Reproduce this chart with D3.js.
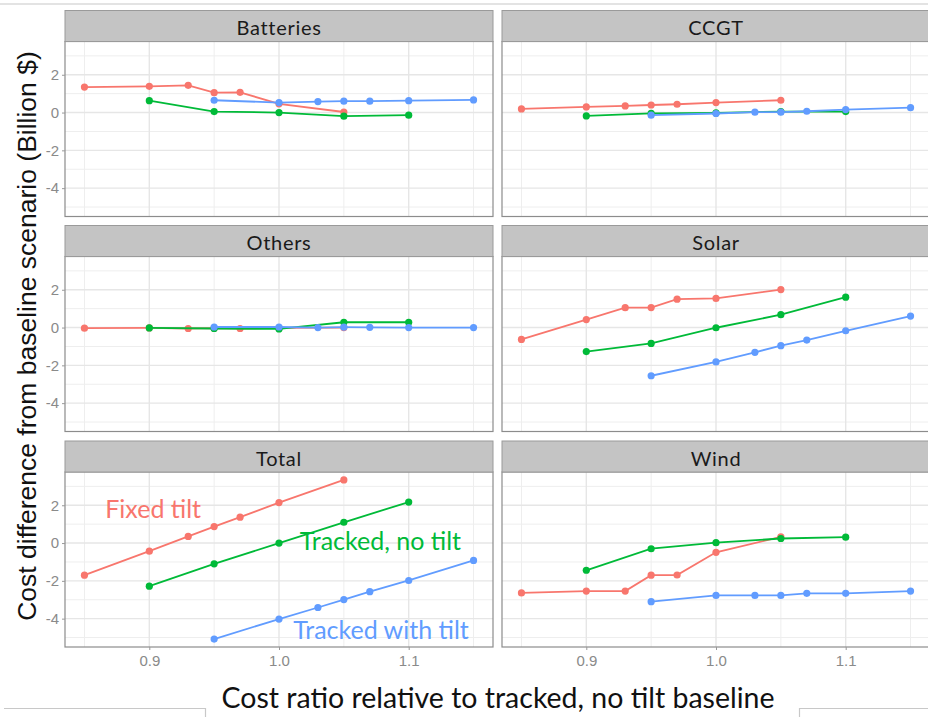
<!DOCTYPE html>
<html>
<head>
<meta charset="utf-8">
<script src="https://cdn.jsdelivr.net/npm/d3@7"></script>
<style>
  body { margin: 0; background: #fff; }
  svg { display: block; }
</style>
</head>
<body>
<svg width="928" height="717"></svg>
<script>
// facets, in reading order
let panels = ["Batteries", "CCGT", "Others", "Solar", "Total", "Wind"]

// x values of each scenario
let xFixed = [0.85, 0.90, 0.93, 0.95, 0.97, 1.00, 1.05]
let xNoTilt = [0.90, 0.95, 1.00, 1.05, 1.10]
let xWithTilt = [0.95, 1.00, 1.03, 1.05, 1.07, 1.10, 1.15]

// one row per panel (same order as panels)
let fixedTilt = [
    [1.35, 1.39, 1.44, 1.05, 1.07, 0.46, 0.03],
    [0.19, 0.30, 0.35, 0.40, 0.44, 0.53, 0.65],
    [-0.03, -0.02, -0.05, -0.03, -0.05, -0.02, 0.00],
    [-0.63, 0.42, 1.05, 1.06, 1.50, 1.54, 2.01],
    [-1.70, -0.43, 0.35, 0.87, 1.37, 2.14, 3.34],
    [-2.64, -2.54, -2.54, -1.70, -1.69, -0.49, 0.33]
]
let trackedNoTilt = [
    [0.63, 0.05, 0.00, -0.19, -0.14],
    [-0.18, -0.04, -0.02, 0.05, 0.05],
    [-0.02, -0.05, -0.07, 0.28, 0.28],
    [-1.27, -0.84, -0.01, 0.68, 1.61],
    [-2.28, -1.10, 0.00, 1.10, 2.17],
    [-1.44, -0.30, 0.02, 0.24, 0.31]
]
let trackedWithTilt = [
    [0.65, 0.53, 0.58, 0.60, 0.60, 0.63, 0.67],
    [-0.14, -0.05, 0.02, 0.02, 0.07, 0.16, 0.26],
    [0.03, 0.03, 0.00, 0.02, 0.01, 0.00, 0.00],
    [-2.55, -1.82, -1.31, -0.96, -0.66, -0.17, 0.61],
    [-5.08, -4.02, -3.41, -2.99, -2.57, -1.98, -0.92],
    [-3.10, -2.77, -2.77, -2.77, -2.66, -2.66, -2.54]
]

let seriesNames = ["Fixed tilt", "Tracked, no tilt", "Tracked with tilt"]
let colors = ["#F8766D", "#00BA38", "#619CFF"]

let xTicks = [0.9, 1.0, 1.1]
let xMinor = [0.85, 0.95, 1.05, 1.15]
let yTicks = [-4, -2, 0, 2]
let yMinor = [-5, -3, -1, 1, 3]

var svg = d3.select("svg")

var panelW = 428,
    panelH = 175,
    stripH = 31
var colX = [65, 502]
var rowY = [10.5, 225.5, 441]

var x = d3.scaleLinear().domain([0.835, 1.165]).range([0, panelW])
var y = d3.scaleLinear().domain([-5.5, 3.76]).range([panelH, 0])

var line = d3.line()
    .x(function (d) { return x(d[0]); })
    .y(function (d) { return y(d[1]); })

// screenshot edges
svg.append("line").attr("x1", 0).attr("x2", 928).attr("y1", 4).attr("y2", 4)
    .attr("stroke", "#c8c8c8").attr("stroke-width", 1.2)
svg.append("path").attr("d", "M4,708.5H205.5V717").attr("fill", "none")
    .attr("stroke", "#c8c8c8").attr("stroke-width", 1.2)
svg.append("path").attr("d", "M799.5,717V708.5H928").attr("fill", "none")
    .attr("stroke", "#c8c8c8").attr("stroke-width", 1.2)

panels.forEach(function (name, p) {
    var col = p % 2, row = Math.floor(p / 2)
    var g = svg.append("g")
        .attr("transform", "translate(" + colX[col] + "," + (rowY[row] + stripH) + ")")

    // strip
    svg.append("rect")
        .attr("x", colX[col]).attr("y", rowY[row])
        .attr("width", panelW).attr("height", stripH)
        .attr("fill", "#c4c4c4").attr("stroke", "#9a9a9a").attr("stroke-width", 1)
    svg.append("text")
        .attr("x", colX[col] + panelW / 2).attr("y", rowY[row] + stripH / 2 + 1)
        .attr("text-anchor", "middle").attr("dominant-baseline", "central")
        .attr("font-family", "Lato, 'Open Sans', sans-serif").attr("font-size", "20px")
        .attr("letter-spacing", "0.7px")
        .attr("fill", "#1a1a1a")
        .text(name)

    g.append("rect").attr("width", panelW).attr("height", panelH).attr("fill", "#fff")

    // grid
    g.selectAll(".vminor").data(xMinor).enter().append("line")
        .attr("x1", function (d) { return x(d); }).attr("x2", function (d) { return x(d); })
        .attr("y1", 0).attr("y2", panelH)
        .attr("stroke", "#eeeeee").attr("stroke-width", 1)
    g.selectAll(".hminor").data(yMinor).enter().append("line")
        .attr("y1", function (d) { return y(d); }).attr("y2", function (d) { return y(d); })
        .attr("x1", 0).attr("x2", panelW)
        .attr("stroke", "#eeeeee").attr("stroke-width", 1)
    g.selectAll(".vmajor").data(xTicks).enter().append("line")
        .attr("x1", function (d) { return x(d); }).attr("x2", function (d) { return x(d); })
        .attr("y1", 0).attr("y2", panelH)
        .attr("stroke", "#e6e6e6").attr("stroke-width", 1.4)
    g.selectAll(".hmajor").data(yTicks).enter().append("line")
        .attr("y1", function (d) { return y(d); }).attr("y2", function (d) { return y(d); })
        .attr("x1", 0).attr("x2", panelW)
        .attr("stroke", "#e6e6e6").attr("stroke-width", 1.4)

    // series
    var sets = [
        xFixed.map(function (v, i) { return [v, fixedTilt[p][i]]; }),
        xNoTilt.map(function (v, i) { return [v, trackedNoTilt[p][i]]; }),
        xWithTilt.map(function (v, i) { return [v, trackedWithTilt[p][i]]; })
    ]
    sets.forEach(function (pts, s) {
        g.append("path").datum(pts)
            .attr("d", line).attr("fill", "none")
            .attr("stroke", colors[s]).attr("stroke-width", 1.8)
        g.selectAll(".pt" + s).data(pts).enter().append("circle")
            .attr("cx", function (d) { return x(d[0]); })
            .attr("cy", function (d) { return y(d[1]); })
            .attr("r", 3.6)
            .attr("fill", colors[s])
    })

    g.append("rect").attr("width", panelW).attr("height", panelH)
        .attr("fill", "none").attr("stroke", "#8c8c8c").attr("stroke-width", 1.2)

    // axes
    if (col === 0) {
        var ya = g.append("g").call(d3.axisLeft(y).tickValues(yTicks).tickSize(3).tickPadding(3)
            .tickFormat(function (d) { return d; }))
        ya.select(".domain").remove()
        ya.selectAll("line").attr("stroke", "#999")
        ya.selectAll("text").attr("fill", "#8a8a8a").attr("font-size", "15px")
            .attr("font-family", "'Liberation Sans', Arial, sans-serif")
    }
    if (row === 2) {
        var xa = g.append("g").attr("transform", "translate(0," + panelH + ")")
            .call(d3.axisBottom(x).tickValues(xTicks).tickSize(3).tickPadding(5)
                .tickFormat(d3.format(".1f")))
        xa.select(".domain").remove()
        xa.selectAll("line").attr("stroke", "#999")
        xa.selectAll("text").attr("fill", "#8a8a8a").attr("font-size", "15px")
            .attr("font-family", "'Liberation Sans', Arial, sans-serif")
    }

    // direct labels on the Total panel
    if (name === "Total") {
        var labelPos = [[0.866, 1.84], [1.016, 0.14], [1.011, -4.53]]
        seriesNames.forEach(function (t, s) {
            g.append("text")
                .attr("x", x(labelPos[s][0])).attr("y", y(labelPos[s][1]))
                .attr("dominant-baseline", "central")
                .attr("font-family", "Lato, 'Open Sans', sans-serif").attr("font-size", "25px")
                .attr("fill", colors[s])
                .text(t)
        })
    }
})

svg.append("text")
    .attr("x", 498).attr("y", 697)
    .attr("text-anchor", "middle").attr("dominant-baseline", "central")
    .attr("font-family", "Lato, 'Open Sans', sans-serif").attr("font-size", "28.5px")
    .attr("fill", "#111")
    .text("Cost ratio relative to tracked, no tilt baseline")

svg.append("text")
    .attr("transform", "translate(27,336) rotate(-90)")
    .attr("text-anchor", "middle").attr("dominant-baseline", "central")
    .attr("font-family", "'Liberation Sans', Arial, sans-serif").attr("font-size", "26.5px")
    .attr("fill", "#111")
    .text("Cost difference from baseline scenario (Billion $)")
</script>
</body>
</html>
